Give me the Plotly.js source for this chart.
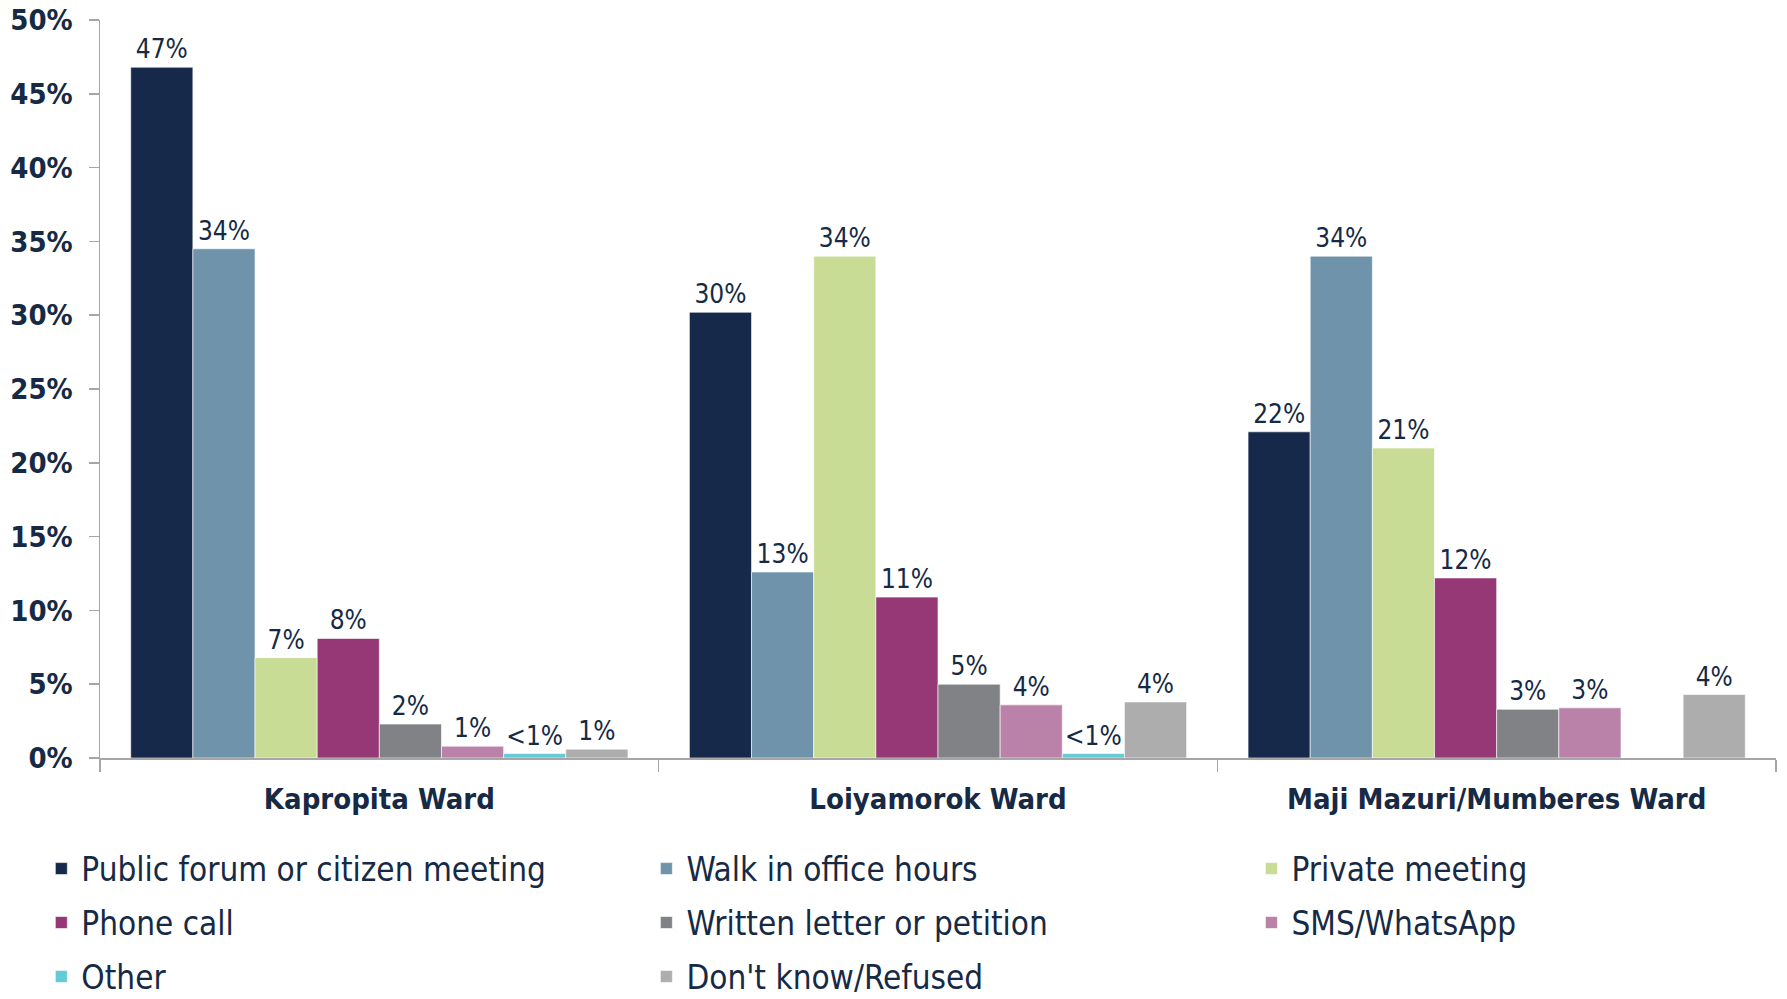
<!DOCTYPE html>
<html>
<head>
<meta charset="utf-8">
<script src="https://cdn.plot.ly/plotly-3.0.1.min.js"></script>
<style>html,body{margin:0;padding:0;background:#fff;}#chart{width:1787px;height:999px;}</style>
</head>
<body>
<div id="chart"></div>
<script>
const categories = ['Kapropita Ward', 'Loiyamorok Ward', 'Maji Mazuri/Mumberes Ward'];

const publicForum   = [46.8, 30.2, 22.1];
const walkIn        = [34.5, 12.6, 34.0];
const privateMeet   = [6.8, 34.0, 21.0];
const phoneCall     = [8.1, 10.9, 12.2];
const writtenLetter = [2.3, 5.0, 3.3];
const smsWhatsApp   = [0.8, 3.6, 3.4];
const otherVals     = [0.3, 0.3, null];
const dontKnow      = [0.6, 3.8, 4.3];

const publicLabels  = ['47%', '30%', '22%'];
const walkLabels    = ['34%', '13%', '34%'];
const privateLabels = ['7%', '34%', '21%'];
const phoneLabels   = ['8%', '11%', '12%'];
const writtenLabels = ['2%', '5%', '3%'];
const smsLabels     = ['1%', '4%', '3%'];
const otherLabels   = ['&lt;1%', '&lt;1%', ''];
const dkLabels      = ['1%', '4%', '4%'];

const seriesNames = ['Public forum or citizen meeting', 'Walk in office hours', 'Private meeting',
  'Phone call', 'Written letter or petition', 'SMS/WhatsApp', 'Other', "Don't know/Refused"];
const seriesValues = [publicForum, walkIn, privateMeet, phoneCall, writtenLetter, smsWhatsApp, otherVals, dontKnow];
const seriesLabels = [publicLabels, walkLabels, privateLabels, phoneLabels, writtenLabels, smsLabels, otherLabels, dkLabels];
const seriesColors = ['#16294a', '#6f93aa', '#c9dc96', '#973876', '#818285', '#bb82a9', '#63cad6', '#adadae'];
// legend columns: column 1, 2, 3 (reading order row by row in the reference)
const legendOf = ['legend', 'legend2', 'legend3', 'legend', 'legend2', 'legend3', 'legend', 'legend2'];

const navy = '#162a45';
const condensed = '"DejaVu Sans Condensed", "DejaVu Sans", sans-serif';

const traces = seriesNames.map((name, i) => ({
  type: 'bar',
  name: name,
  x: categories,
  y: seriesValues[i],
  text: seriesLabels[i],
  textposition: 'outside',
  constraintext: 'none',
  cliponaxis: false,
  textfont: {family: condensed, size: 26, color: navy},
  marker: {color: seriesColors[i], line: {color: 'rgba(255,255,255,0.6)', width: 1}},
  hoverinfo: 'none',
  legend: legendOf[i],
  legendgroup: 'g' + i
}));

function legendCol(x) {
  return {
    orientation: 'v',
    x: x, xanchor: 'left',
    y: -0.112, yanchor: 'top',
    tracegroupgap: 8,
    font: {family: condensed, size: 33, color: navy},
    bgcolor: 'rgba(0,0,0,0)',
    traceorder: 'grouped'
  };
}

const layout = {
  width: 1787, height: 999,
  margin: {l: 100, r: 11, t: 20, b: 241, autoexpand: false},
  paper_bgcolor: '#ffffff', plot_bgcolor: '#ffffff',
  barmode: 'group', bargap: 0.11, bargroupgap: 0,
  showlegend: true,
  legend: legendCol(-0.035),
  legend2: legendCol(0.326),
  legend3: legendCol(0.687),
  xaxis: {
    type: 'category',
    showline: true, linecolor: '#a6a6a6', linewidth: 1.5,
    ticks: 'outside', tickson: 'boundaries', ticklen: 12, tickcolor: '#a6a6a6', tickwidth: 1.5,
    tickfont: {family: condensed, size: 29, color: navy, weight: 'bold'},
    ticklabelstandoff: 15,
    showgrid: false, zeroline: false, fixedrange: true
  },
  yaxis: {
    range: [0, 50], dtick: 5, tick0: 0, ticksuffix: '%',
    showline: true, linecolor: '#a6a6a6', linewidth: 1.5,
    ticks: 'outside', ticklen: 10, tickcolor: '#a6a6a6', tickwidth: 1.5,
    tickfont: {family: condensed, size: 29, color: navy, weight: 'bold'},
    ticklabelstandoff: 10,
    showgrid: false, zeroline: false, fixedrange: true
  }
};

Plotly.newPlot('chart', traces, layout, {displayModeBar: false, staticPlot: true});
</script>
</body>
</html>
